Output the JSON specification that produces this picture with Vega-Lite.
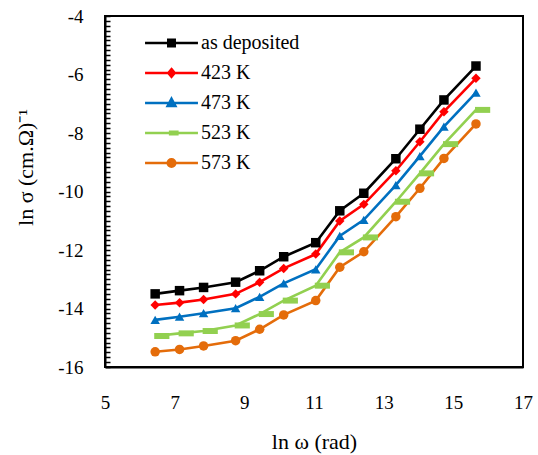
{
  "$schema": "https://vega.github.io/schema/vega-lite/v6.json",
  "width": 418,
  "height": 351,
  "autosize": "none",
  "padding": {"left": 105, "top": 16, "right": 15, "bottom": 88},
  "background": "white",
  "config": {
    "font": "Liberation Serif",
    "view": {"stroke": "black", "strokeWidth": 2}
  },
  "data": {
    "values": [
      {"x": 6.44, "y": -13.50, "series": "as deposited"},
      {"x": 7.14, "y": -13.39, "series": "as deposited"},
      {"x": 7.83, "y": -13.28, "series": "as deposited"},
      {"x": 8.75, "y": -13.10, "series": "as deposited"},
      {"x": 9.44, "y": -12.71, "series": "as deposited"},
      {"x": 10.13, "y": -12.23, "series": "as deposited"},
      {"x": 11.05, "y": -11.75, "series": "as deposited"},
      {"x": 11.74, "y": -10.66, "series": "as deposited"},
      {"x": 12.43, "y": -10.06, "series": "as deposited"},
      {"x": 13.35, "y": -8.88, "series": "as deposited"},
      {"x": 14.04, "y": -7.87, "series": "as deposited"},
      {"x": 14.73, "y": -6.87, "series": "as deposited"},
      {"x": 15.65, "y": -5.71, "series": "as deposited"},
      {"x": 6.44, "y": -13.88, "series": "423 K"},
      {"x": 7.14, "y": -13.80, "series": "423 K"},
      {"x": 7.83, "y": -13.69, "series": "423 K"},
      {"x": 8.75, "y": -13.50, "series": "423 K"},
      {"x": 9.44, "y": -13.10, "series": "423 K"},
      {"x": 10.13, "y": -12.63, "series": "423 K"},
      {"x": 11.05, "y": -12.14, "series": "423 K"},
      {"x": 11.74, "y": -11.01, "series": "423 K"},
      {"x": 12.43, "y": -10.44, "series": "423 K"},
      {"x": 13.35, "y": -9.29, "series": "423 K"},
      {"x": 14.04, "y": -8.30, "series": "423 K"},
      {"x": 14.73, "y": -7.27, "series": "423 K"},
      {"x": 15.65, "y": -6.13, "series": "423 K"},
      {"x": 6.44, "y": -14.39, "series": "473 K"},
      {"x": 7.14, "y": -14.28, "series": "473 K"},
      {"x": 7.83, "y": -14.16, "series": "473 K"},
      {"x": 8.75, "y": -13.99, "series": "473 K"},
      {"x": 9.44, "y": -13.60, "series": "473 K"},
      {"x": 10.13, "y": -13.14, "series": "473 K"},
      {"x": 11.05, "y": -12.66, "series": "473 K"},
      {"x": 11.74, "y": -11.52, "series": "473 K"},
      {"x": 12.43, "y": -10.97, "series": "473 K"},
      {"x": 13.35, "y": -9.78, "series": "473 K"},
      {"x": 14.04, "y": -8.79, "series": "473 K"},
      {"x": 14.73, "y": -7.78, "series": "473 K"},
      {"x": 15.65, "y": -6.62, "series": "473 K"},
      {"x": 6.44, "y": -14.94, "series": "523 K"},
      {"x": 7.14, "y": -14.85, "series": "523 K"},
      {"x": 7.83, "y": -14.77, "series": "523 K"},
      {"x": 8.75, "y": -14.58, "series": "523 K"},
      {"x": 9.44, "y": -14.19, "series": "523 K"},
      {"x": 10.13, "y": -13.73, "series": "523 K"},
      {"x": 11.05, "y": -13.22, "series": "523 K"},
      {"x": 11.74, "y": -12.08, "series": "523 K"},
      {"x": 12.43, "y": -11.57, "series": "523 K"},
      {"x": 13.35, "y": -10.35, "series": "523 K"},
      {"x": 14.04, "y": -9.38, "series": "523 K"},
      {"x": 14.73, "y": -8.38, "series": "523 K"},
      {"x": 15.65, "y": -7.21, "series": "523 K"},
      {"x": 6.44, "y": -15.48, "series": "573 K"},
      {"x": 7.14, "y": -15.40, "series": "573 K"},
      {"x": 7.83, "y": -15.28, "series": "573 K"},
      {"x": 8.75, "y": -15.10, "series": "573 K"},
      {"x": 9.44, "y": -14.71, "series": "573 K"},
      {"x": 10.13, "y": -14.22, "series": "573 K"},
      {"x": 11.05, "y": -13.73, "series": "573 K"},
      {"x": 11.74, "y": -12.59, "series": "573 K"},
      {"x": 12.43, "y": -12.06, "series": "573 K"},
      {"x": 13.35, "y": -10.86, "series": "573 K"},
      {"x": 14.04, "y": -9.89, "series": "573 K"},
      {"x": 14.73, "y": -8.87, "series": "573 K"},
      {"x": 15.65, "y": -7.69, "series": "573 K"}
    ]
  },
  "encoding": {
    "x": {
      "field": "x",
      "type": "quantitative",
      "scale": {"domain": [5, 17], "nice": false, "zero": false},
      "axis": {
        "values": [5, 7, 9, 11, 13, 15, 17],
        "ticks": false,
        "grid": false,
        "domainColor": "black",
        "domainWidth": 2,
        "labelFont": "Liberation Serif",
        "labelFontSize": 19,
        "labelColor": "black",
        "labelPadding": 26,
        "labelFlush": false,
        "labelOverlap": false,
        "title": "ln ω (rad)",
        "titleFont": "Liberation Serif",
        "titleFontSize": 22,
        "titleFontWeight": "normal",
        "titleColor": "black",
        "titleBaseline": "middle",
        "titleY": 74
      }
    },
    "y": {
      "field": "y",
      "type": "quantitative",
      "scale": {"domain": [-16, -4], "nice": false, "zero": false},
      "axis": {
        "values": [-4, -4.1667, -4.3333, -4.5, -4.6667, -4.8333, -5, -5.1667, -5.3333, -5.5, -5.6667, -5.8333, -6, -6.1667, -6.3333, -6.5, -6.6667, -6.8333, -7, -7.1667, -7.3333, -7.5, -7.6667, -7.8333, -8, -8.1667, -8.3333, -8.5, -8.6667, -8.8333, -9, -9.1667, -9.3333, -9.5, -9.6667, -9.8333, -10, -10.1667, -10.3333, -10.5, -10.6667, -10.8333, -11, -11.1667, -11.3333, -11.5, -11.6667, -11.8333, -12, -12.1667, -12.3333, -12.5, -12.6667, -12.8333, -13, -13.1667, -13.3333, -13.5, -13.6667, -13.8333, -14, -14.1667, -14.3333, -14.5, -14.6667, -14.8333, -15, -15.1667, -15.3333, -15.5, -15.6667, -15.8333, -16],
        "labelExpr": "abs(datum.value % 2) < 0.001 ? ('' + datum.value) : ''",
        "grid": false,
        "tickSize": -5,
        "tickColor": "black",
        "tickWidth": 1.5,
        "domainColor": "black",
        "domainWidth": 2,
        "labelFont": "Liberation Serif",
        "labelFontSize": 19,
        "labelColor": "black",
        "labelPadding": 27,
        "labelOverlap": false,
        "labelFlush": false,
        "title": "ln σ (cm.Ω)⁻¹",
        "titleFont": "Liberation Serif",
        "titleFontSize": 22,
        "titleFontWeight": "normal",
        "titleColor": "black",
        "titleAngle": 270,
        "titleAlign": "center",
        "titleBaseline": "middle",
        "titleX": -80,
        "titleY": 151
      }
    }
  },
  "resolve": {"scale": {"shape": "independent"}},
  "layer": [
    {
      "mark": {"type": "line", "strokeWidth": 2.6},
      "encoding": {
        "color": {
          "field": "series",
          "type": "nominal",
          "scale": {
            "domain": ["as deposited", "423 K", "473 K", "523 K", "573 K"],
            "range": ["#000000", "#FF0000", "#0070C0", "#92D050", "#E46C0A"]
          },
          "legend": null
        }
      }
    },
    {
      "mark": {"type": "point", "filled": true, "opacity": 1, "size": 90},
      "encoding": {
        "color": {"field": "series", "type": "nominal", "legend": null},
        "shape": {
          "field": "series",
          "type": "nominal",
          "scale": {
            "domain": ["as deposited", "423 K", "473 K", "523 K", "573 K"],
            "range": ["square", "diamond", "triangle-up", "M-0.2,-0.63L3,-0.63L3,0.63L-0.2,0.63Z", "circle"]
          },
          "legend": null
        }
      }
    },
    {
      "mark": {"type": "point", "filled": true, "opacity": 0, "size": 112},
      "encoding": {
        "color": {"field": "series", "type": "nominal", "legend": null},
        "shape": {
          "field": "series",
          "type": "nominal",
          "scale": {
            "domain": ["as deposited", "423 K", "473 K", "523 K", "573 K"],
            "range": [
              "M-5,0L5,0M-0.6,-0.6L0.6,-0.6L0.6,0.6L-0.6,0.6Z",
              "M-5,0L5,0M0,-0.72L0.6,0L0,0.72L-0.6,0Z",
              "M-5,0L5,0M0,-0.8L0.72,0.55L-0.72,0.55Z",
              "M-5,0L5,0M-0.25,-0.25L1.1,-0.25L1.1,0.25L-0.25,0.25Z",
              "M-5,0L5,0M-0.7,0A0.7,0.7 0 1,0 0.7,0A0.7,0.7 0 1,0 -0.7,0Z"
            ]
          },
          "legend": {
            "orient": "none",
            "legendX": 56.5,
            "legendY": 17,
            "padding": 0,
            "title": null,
            "symbolSize": 112,
            "symbolOpacity": 1,
            "symbolStrokeWidth": 2.6,
            "labelFont": "Liberation Serif",
            "labelFontSize": 20,
            "labelColor": "black",
            "labelOffset": 19.5,
            "rowPadding": 10,
            "encoding": {
              "symbols": {
                "fill": {"value": {"expr": "scale('color', datum.value)"}},
                "stroke": {"value": {"expr": "scale('color', datum.value)"}},
                "strokeWidth": {"value": 2.6},
                "opacity": {"value": 1},
                "fillOpacity": {"value": 1},
                "strokeOpacity": {"value": 1}
              }
            }
          }
        }
      }
    }
  ]
}
